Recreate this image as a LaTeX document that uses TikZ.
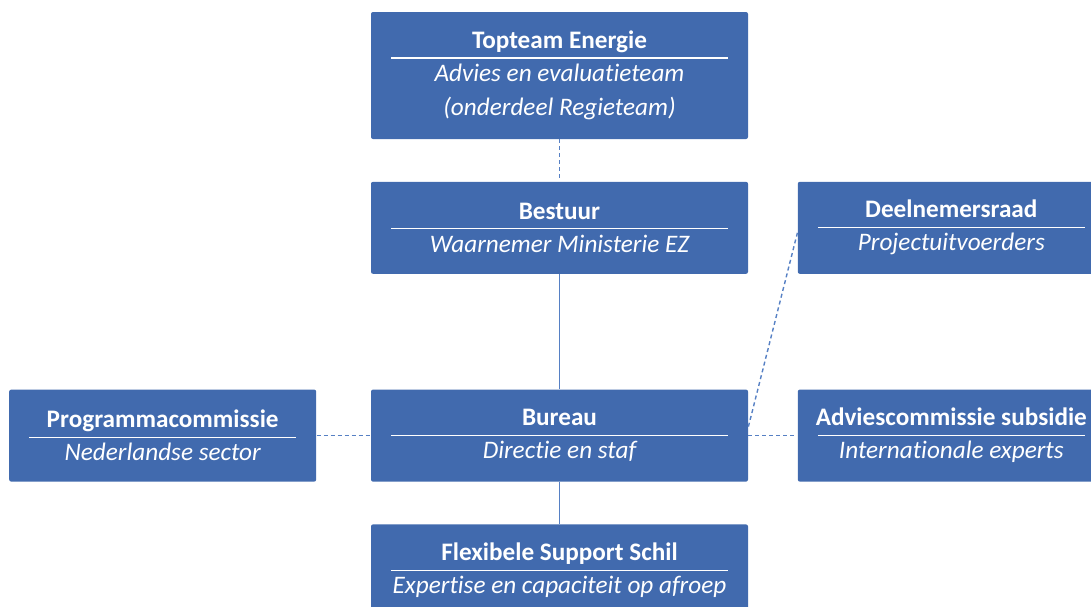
\documentclass[tikz,border=0pt]{standalone}
\usepackage{fontspec}
\setmainfont{Carlito}[Ligatures={NoCommon}]
\usepackage{tikz}
\usetikzlibrary{positioning}
\hyphenpenalty=10000

\definecolor{orgblue}{RGB}{65,106,174}
\definecolor{linkblue}{RGB}{86,128,196}
% title, rule, subtitle
\newcommand{\orgtext}[2]{\makebox[\hsize]{\textbf{#1}}\\[-12pt]\rule{\hsize}{0.6pt}\\[-5.5pt]{\itshape #2}}

\begin{document}
\begin{tikzpicture}[x=0.5pt, y=-0.5pt, node distance=21pt,
    unit/.style={rectangle, fill=orgblue, text=white, rounded corners=1pt, inner xsep=10pt, inner ysep=0pt, minimum height=46pt, align=flush center, font=\fontsize{12.6}{17}\selectfont},
    wide/.style={unit, text width=168.5pt},
    narrow/.style={unit, text width=133.5pt},
    link/.style={draw=linkblue, line width=0.7pt},
    loose/.style={link, dash pattern=on 2pt off 1.5pt}]
    \useasboundingbox (0,0) rectangle (1091,606);
    \clip (0,0) rectangle (1091,606);

    % Nodes
    \node [wide, minimum height=63.5pt] (topteam) at (559.5,75.5) {\orgtext{Topteam Energie}{Advies en evaluatieteam\\(onderdeel Regieteam)}};
    \node [wide, below=of topteam] (bestuur) {\orgtext{Bestuur}{Waarnemer Ministerie EZ}};
    \node [wide, below=57.5pt of bestuur] (bureau) {\orgtext{Bureau}{Directie en staf}};
    \node [wide, below=of bureau] (support) {\orgtext{Flexibele Support Schil}{Expertise en capaciteit op afroep}};
    \node [narrow, left=27pt of bureau] (programma) {\orgtext{Programmacommissie}{Nederlandse sector}};
    \node [narrow, right=24.5pt of bureau] (advies) {\orgtext{Adviescommissie subsidie}{Internationale experts}};
    \node [narrow, right=24.5pt of bestuur] (deelnemers) {\orgtext{Deelnemersraad}{Projectuitvoerders}};

    % Edges
    \draw [loose] (topteam) -- (bestuur);
    \draw [link] (bestuur) -- (bureau);
    \draw [link] (bureau) -- (support);
    \draw [loose] (programma) -- (bureau);
    \draw [loose] (bureau) -- (advies);
    \draw [loose] ([yshift=4.5pt]bureau.east) -- ([yshift=-2.5pt]deelnemers.west);
\end{tikzpicture}
\end{document}
